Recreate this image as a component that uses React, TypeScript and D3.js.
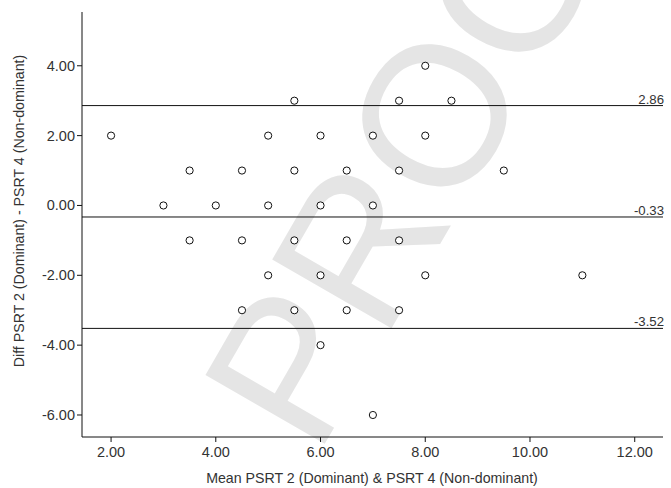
import React from 'react';
import * as d3 from 'd3';

// Mean of the two measurements (x) and their difference (y)
const meanValues = [
  8,
  5.5, 7.5, 8.5,
  2, 5, 6, 7, 8,
  3.5, 4.5, 5.5, 6.5, 7.5, 9.5,
  3, 4, 5, 6, 7,
  3.5, 4.5, 5.5, 6.5, 7.5,
  5, 6, 8, 11,
  4.5, 5.5, 6.5, 7.5,
  6,
  7,
];
const diffValues = [
  4,
  3, 3, 3,
  2, 2, 2, 2, 2,
  1, 1, 1, 1, 1, 1,
  0, 0, 0, 0, 0,
  -1, -1, -1, -1, -1,
  -2, -2, -2, -2,
  -3, -3, -3, -3,
  -4,
  -6,
];
// upper limit of agreement, mean difference, lower limit
const refLines = [2.86, -0.33, -3.52];
const xTicks = [2, 4, 6, 8, 10, 12];
const yTicks = [-6, -4, -2, 0, 2, 4];

const watermark = 'PROOF';
// Arial-style advance widths (em) of the watermark letters
const wmAdvance: Record<string, number> = { P: 0.667, R: 0.722, O: 0.778, F: 0.611 };

const width = 671;
const height = 488;
const margin = { top: 12, right: 8, bottom: 51, left: 82 };

const App = () => {
  const x = d3.scaleLinear()
    .domain([1.445, 12.54])
    .range([margin.left, width - margin.right]);
  const y = d3.scaleLinear()
    .domain([-6.63, 5.54])
    .range([height - margin.bottom, margin.top]);

  const points = meanValues.map((m, i) => ({ m, d: diffValues[i] }));
  const font = '"Liberation Sans", Arial, Helvetica, sans-serif';
  const textColor = '#333';
  const x0 = margin.left;
  const x1 = width - margin.right;
  const yb = height - margin.bottom;

  // watermark letters laid along a rotated baseline, anchored at the first O
  const wmSize = 200;
  const wmAngle = -60;
  const rad = (wmAngle * Math.PI) / 180;
  const letters = watermark.split('');
  let acc = 0;
  const centres = letters.map((c) => {
    const mid = acc + wmAdvance[c] / 2;
    acc += wmAdvance[c];
    return mid;
  });
  const anchorU = centres[2];
  const wmLetters = letters.map((c, i) => {
    const u = (centres[i] - anchorU) * wmSize;
    return { c, cx: 432 + u * Math.cos(rad), cy: 114 + u * Math.sin(rad) };
  });

  return (
    <svg width={width} height={height} style={{ position: 'absolute', left: 0, top: 0, background: '#fff' }}
      fontFamily={font}>
      <g fill="#e5e5e5" fontSize={wmSize}>
        {wmLetters.map((l, i) => (
          <text key={i} transform={`translate(${l.cx},${l.cy}) rotate(${wmAngle})`} x={0} y={wmSize * 0.36}
            textAnchor="middle">{l.c}</text>
        ))}
      </g>

      {refLines.map((v) => (
        <g key={v}>
          <line x1={x0} x2={x1} y1={y(v)} y2={y(v)} stroke="#111" strokeWidth={1} />
          <text x={x1 + 1} y={y(v) - 2} textAnchor="end" fontSize={13.2} fill={textColor}>{v.toFixed(2)}</text>
        </g>
      ))}

      {points.map((p, i) => (
        <circle key={i} cx={x(p.m)} cy={y(p.d)} r={3.6} fill="#fff" stroke="#111" strokeWidth={1} />
      ))}

      {/* axes */}
      <line x1={x0} x2={x0} y1={margin.top} y2={yb} stroke="#111" />
      <line x1={x0} x2={x1} y1={yb} y2={yb} stroke="#111" />
      {xTicks.map((t) => (
        <g key={t}>
          <line x1={x(t)} x2={x(t)} y1={yb} y2={yb + 5} stroke="#111" />
          <text x={x(t)} y={yb + 20} textAnchor="middle" fontSize={14.5} fill={textColor}>{t.toFixed(2)}</text>
        </g>
      ))}
      {yTicks.map((t) => (
        <g key={t}>
          <line x1={x0 - 5} x2={x0} y1={y(t)} y2={y(t)} stroke="#111" />
          <text x={x0 - 7} y={y(t) + 5} textAnchor="end" fontSize={14.5} fill={textColor}>{t.toFixed(2)}</text>
        </g>
      ))}

      <text x={372} y={483} textAnchor="middle" fontSize={14.2} fill={textColor}>
        Mean PSRT 2 (Dominant) &amp; PSRT 4 (Non-dominant)
      </text>
      <text transform={`translate(24, 211) rotate(-90)`} textAnchor="middle" fontSize={14.2} fill={textColor}>
        Diff PSRT 2 (Dominant) - PSRT 4 (Non-dominant)
      </text>
    </svg>
  );
};

export default App;
